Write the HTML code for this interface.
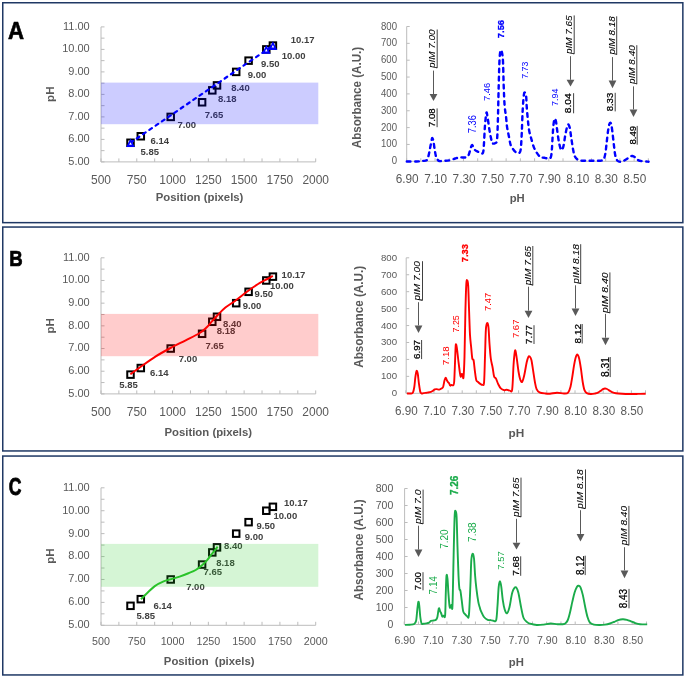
<!DOCTYPE html>
<html><head><meta charset="utf-8"><style>
html,body{margin:0;padding:0;background:#fff;}
svg{display:block;font-family:"Liberation Sans", sans-serif;will-change:transform;}
</style></head><body>
<svg width="685" height="678" viewBox="0 0 685 678">
<rect width="685" height="678" fill="#fff"/>
<rect x="2.75" y="2.75" width="680.1" height="219.90" fill="none" stroke="#1f3864" stroke-width="1.5"/>
<rect x="2.75" y="227.05" width="680.1" height="223.90" fill="none" stroke="#1f3864" stroke-width="1.5"/>
<rect x="2.75" y="456.05" width="680.1" height="218.90" fill="none" stroke="#1f3864" stroke-width="1.5"/>
<line x1="101.0" y1="26.9" x2="101.0" y2="161.9" stroke="#bcbcbc" stroke-width="1"/>
<line x1="101.0" y1="161.9" x2="315.7" y2="161.9" stroke="#bcbcbc" stroke-width="1"/>
<line x1="101.0" y1="161.90" x2="104.5" y2="161.90" stroke="#bcbcbc" stroke-width="1"/>
<line x1="101.0" y1="150.65" x2="104.5" y2="150.65" stroke="#bcbcbc" stroke-width="1"/>
<line x1="101.0" y1="139.40" x2="104.5" y2="139.40" stroke="#bcbcbc" stroke-width="1"/>
<line x1="101.0" y1="128.15" x2="104.5" y2="128.15" stroke="#bcbcbc" stroke-width="1"/>
<line x1="101.0" y1="116.90" x2="104.5" y2="116.90" stroke="#bcbcbc" stroke-width="1"/>
<line x1="101.0" y1="105.65" x2="104.5" y2="105.65" stroke="#bcbcbc" stroke-width="1"/>
<line x1="101.0" y1="94.40" x2="104.5" y2="94.40" stroke="#bcbcbc" stroke-width="1"/>
<line x1="101.0" y1="83.15" x2="104.5" y2="83.15" stroke="#bcbcbc" stroke-width="1"/>
<line x1="101.0" y1="71.90" x2="104.5" y2="71.90" stroke="#bcbcbc" stroke-width="1"/>
<line x1="101.0" y1="60.65" x2="104.5" y2="60.65" stroke="#bcbcbc" stroke-width="1"/>
<line x1="101.0" y1="49.40" x2="104.5" y2="49.40" stroke="#bcbcbc" stroke-width="1"/>
<line x1="101.0" y1="38.15" x2="104.5" y2="38.15" stroke="#bcbcbc" stroke-width="1"/>
<line x1="101.0" y1="26.90" x2="104.5" y2="26.90" stroke="#bcbcbc" stroke-width="1"/>
<line x1="101.00" y1="161.9" x2="101.00" y2="158.4" stroke="#bcbcbc" stroke-width="1"/>
<line x1="118.89" y1="161.9" x2="118.89" y2="158.4" stroke="#bcbcbc" stroke-width="1"/>
<line x1="136.78" y1="161.9" x2="136.78" y2="158.4" stroke="#bcbcbc" stroke-width="1"/>
<line x1="154.68" y1="161.9" x2="154.68" y2="158.4" stroke="#bcbcbc" stroke-width="1"/>
<line x1="172.57" y1="161.9" x2="172.57" y2="158.4" stroke="#bcbcbc" stroke-width="1"/>
<line x1="190.46" y1="161.9" x2="190.46" y2="158.4" stroke="#bcbcbc" stroke-width="1"/>
<line x1="208.35" y1="161.9" x2="208.35" y2="158.4" stroke="#bcbcbc" stroke-width="1"/>
<line x1="226.24" y1="161.9" x2="226.24" y2="158.4" stroke="#bcbcbc" stroke-width="1"/>
<line x1="244.13" y1="161.9" x2="244.13" y2="158.4" stroke="#bcbcbc" stroke-width="1"/>
<line x1="262.02" y1="161.9" x2="262.02" y2="158.4" stroke="#bcbcbc" stroke-width="1"/>
<line x1="279.92" y1="161.9" x2="279.92" y2="158.4" stroke="#bcbcbc" stroke-width="1"/>
<line x1="297.81" y1="161.9" x2="297.81" y2="158.4" stroke="#bcbcbc" stroke-width="1"/>
<line x1="315.70" y1="161.9" x2="315.70" y2="158.4" stroke="#bcbcbc" stroke-width="1"/>
<text x="89.70" y="164.80" font-size="11.00" text-anchor="end" fill="#595959" textLength="21.41" lengthAdjust="spacingAndGlyphs">5.00</text>
<text x="89.70" y="142.30" font-size="11.00" text-anchor="end" fill="#595959" textLength="21.41" lengthAdjust="spacingAndGlyphs">6.00</text>
<text x="89.70" y="119.80" font-size="11.00" text-anchor="end" fill="#595959" textLength="21.41" lengthAdjust="spacingAndGlyphs">7.00</text>
<text x="89.70" y="97.30" font-size="11.00" text-anchor="end" fill="#595959" textLength="21.41" lengthAdjust="spacingAndGlyphs">8.00</text>
<text x="89.70" y="74.80" font-size="11.00" text-anchor="end" fill="#595959" textLength="21.41" lengthAdjust="spacingAndGlyphs">9.00</text>
<text x="89.70" y="52.30" font-size="11.00" text-anchor="end" fill="#595959" textLength="27.53" lengthAdjust="spacingAndGlyphs">10.00</text>
<text x="89.70" y="29.80" font-size="11.00" text-anchor="end" fill="#595959" textLength="26.71" lengthAdjust="spacingAndGlyphs">11.00</text>
<text x="101.00" y="183.80" font-size="12.70" text-anchor="middle" fill="#595959" textLength="19.98" lengthAdjust="spacingAndGlyphs">500</text>
<text x="136.78" y="183.80" font-size="12.70" text-anchor="middle" fill="#595959" textLength="19.98" lengthAdjust="spacingAndGlyphs">750</text>
<text x="172.57" y="183.80" font-size="12.70" text-anchor="middle" fill="#595959" textLength="26.64" lengthAdjust="spacingAndGlyphs">1000</text>
<text x="208.35" y="183.80" font-size="12.70" text-anchor="middle" fill="#595959" textLength="26.64" lengthAdjust="spacingAndGlyphs">1250</text>
<text x="244.13" y="183.80" font-size="12.70" text-anchor="middle" fill="#595959" textLength="26.64" lengthAdjust="spacingAndGlyphs">1500</text>
<text x="279.92" y="183.80" font-size="12.70" text-anchor="middle" fill="#595959" textLength="26.64" lengthAdjust="spacingAndGlyphs">1750</text>
<text x="315.70" y="183.80" font-size="12.70" text-anchor="middle" fill="#595959" textLength="26.64" lengthAdjust="spacingAndGlyphs">2000</text>
<text x="199.6" y="200.9" font-size="11.35" font-weight="bold" text-anchor="middle" fill="#595959">Position (pixels)</text>
<text transform="translate(54.3,94.2) rotate(-90)" font-size="11.6" font-weight="bold" text-anchor="middle" fill="#595959">pH</text>
<rect x="127.25" y="139.53" width="6.5" height="6.5" fill="none" stroke="#000" stroke-width="2"/>
<rect x="137.55" y="133.00" width="6.5" height="6.5" fill="none" stroke="#000" stroke-width="2"/>
<rect x="167.45" y="113.65" width="6.5" height="6.5" fill="none" stroke="#000" stroke-width="2"/>
<rect x="198.85" y="99.03" width="6.5" height="6.5" fill="none" stroke="#000" stroke-width="2"/>
<rect x="209.05" y="87.10" width="6.5" height="6.5" fill="none" stroke="#000" stroke-width="2"/>
<rect x="213.75" y="82.15" width="6.5" height="6.5" fill="none" stroke="#000" stroke-width="2"/>
<rect x="232.95" y="68.65" width="6.5" height="6.5" fill="none" stroke="#000" stroke-width="2"/>
<rect x="245.35" y="57.40" width="6.5" height="6.5" fill="none" stroke="#000" stroke-width="2"/>
<rect x="263.05" y="46.15" width="6.5" height="6.5" fill="none" stroke="#000" stroke-width="2"/>
<rect x="269.65" y="42.33" width="6.5" height="6.5" fill="none" stroke="#000" stroke-width="2"/>
<line x1="130.5" y1="142.78" x2="272.9" y2="45.58" stroke="#0000ff" stroke-width="2.2" stroke-dasharray="3.1 4.5" stroke-linecap="round"/>
<path d="M130.50,138.47 L134.80,147.08 L126.20,147.08 Z" fill="#0000ff"/>
<path d="M130.50,142.18 L131.80,144.78 L129.20,144.78 Z" fill="#fff"/>
<path d="M266.30,45.10 L270.60,53.70 L262.00,53.70 Z" fill="#0000ff"/>
<path d="M266.30,48.80 L267.60,51.40 L265.00,51.40 Z" fill="#fff"/>
<path d="M272.90,41.28 L277.20,49.88 L268.60,49.88 Z" fill="#0000ff"/>
<path d="M272.90,44.98 L274.20,47.58 L271.60,47.58 Z" fill="#fff"/>
<text x="140.5" y="155.0" font-size="9.5" font-weight="bold" fill="#404040">5.85</text>
<text x="150.5" y="144.2" font-size="9.5" font-weight="bold" fill="#404040">6.14</text>
<text x="177.5" y="127.9" font-size="9.5" font-weight="bold" fill="#404040">7.00</text>
<text x="204.8" y="117.7" font-size="9.5" font-weight="bold" fill="#404040">7.65</text>
<text x="218.0" y="101.8" font-size="9.5" font-weight="bold" fill="#404040">8.18</text>
<text x="231.2" y="90.8" font-size="9.5" font-weight="bold" fill="#404040">8.40</text>
<text x="247.8" y="77.7" font-size="9.5" font-weight="bold" fill="#404040">9.00</text>
<text x="261.0" y="66.8" font-size="9.5" font-weight="bold" fill="#404040">9.50</text>
<text x="281.8" y="58.9" font-size="9.5" font-weight="bold" fill="#404040">10.00</text>
<text x="290.7" y="43.1" font-size="9.5" font-weight="bold" fill="#404040">10.17</text>
<rect x="101.0" y="82.60" width="217.30" height="41.60" fill="rgba(0,0,255,0.2)"/>
<line x1="101.0" y1="257.8" x2="101.0" y2="393.9" stroke="#bcbcbc" stroke-width="1"/>
<line x1="101.0" y1="393.9" x2="315.7" y2="393.9" stroke="#bcbcbc" stroke-width="1"/>
<line x1="101.0" y1="393.90" x2="104.5" y2="393.90" stroke="#bcbcbc" stroke-width="1"/>
<line x1="101.0" y1="382.56" x2="104.5" y2="382.56" stroke="#bcbcbc" stroke-width="1"/>
<line x1="101.0" y1="371.22" x2="104.5" y2="371.22" stroke="#bcbcbc" stroke-width="1"/>
<line x1="101.0" y1="359.88" x2="104.5" y2="359.88" stroke="#bcbcbc" stroke-width="1"/>
<line x1="101.0" y1="348.53" x2="104.5" y2="348.53" stroke="#bcbcbc" stroke-width="1"/>
<line x1="101.0" y1="337.19" x2="104.5" y2="337.19" stroke="#bcbcbc" stroke-width="1"/>
<line x1="101.0" y1="325.85" x2="104.5" y2="325.85" stroke="#bcbcbc" stroke-width="1"/>
<line x1="101.0" y1="314.51" x2="104.5" y2="314.51" stroke="#bcbcbc" stroke-width="1"/>
<line x1="101.0" y1="303.17" x2="104.5" y2="303.17" stroke="#bcbcbc" stroke-width="1"/>
<line x1="101.0" y1="291.82" x2="104.5" y2="291.82" stroke="#bcbcbc" stroke-width="1"/>
<line x1="101.0" y1="280.48" x2="104.5" y2="280.48" stroke="#bcbcbc" stroke-width="1"/>
<line x1="101.0" y1="269.14" x2="104.5" y2="269.14" stroke="#bcbcbc" stroke-width="1"/>
<line x1="101.0" y1="257.80" x2="104.5" y2="257.80" stroke="#bcbcbc" stroke-width="1"/>
<line x1="101.00" y1="393.9" x2="101.00" y2="390.4" stroke="#bcbcbc" stroke-width="1"/>
<line x1="118.89" y1="393.9" x2="118.89" y2="390.4" stroke="#bcbcbc" stroke-width="1"/>
<line x1="136.78" y1="393.9" x2="136.78" y2="390.4" stroke="#bcbcbc" stroke-width="1"/>
<line x1="154.68" y1="393.9" x2="154.68" y2="390.4" stroke="#bcbcbc" stroke-width="1"/>
<line x1="172.57" y1="393.9" x2="172.57" y2="390.4" stroke="#bcbcbc" stroke-width="1"/>
<line x1="190.46" y1="393.9" x2="190.46" y2="390.4" stroke="#bcbcbc" stroke-width="1"/>
<line x1="208.35" y1="393.9" x2="208.35" y2="390.4" stroke="#bcbcbc" stroke-width="1"/>
<line x1="226.24" y1="393.9" x2="226.24" y2="390.4" stroke="#bcbcbc" stroke-width="1"/>
<line x1="244.13" y1="393.9" x2="244.13" y2="390.4" stroke="#bcbcbc" stroke-width="1"/>
<line x1="262.02" y1="393.9" x2="262.02" y2="390.4" stroke="#bcbcbc" stroke-width="1"/>
<line x1="279.92" y1="393.9" x2="279.92" y2="390.4" stroke="#bcbcbc" stroke-width="1"/>
<line x1="297.81" y1="393.9" x2="297.81" y2="390.4" stroke="#bcbcbc" stroke-width="1"/>
<line x1="315.70" y1="393.9" x2="315.70" y2="390.4" stroke="#bcbcbc" stroke-width="1"/>
<text x="89.70" y="396.80" font-size="11.00" text-anchor="end" fill="#595959" textLength="21.41" lengthAdjust="spacingAndGlyphs">5.00</text>
<text x="89.70" y="374.12" font-size="11.00" text-anchor="end" fill="#595959" textLength="21.41" lengthAdjust="spacingAndGlyphs">6.00</text>
<text x="89.70" y="351.43" font-size="11.00" text-anchor="end" fill="#595959" textLength="21.41" lengthAdjust="spacingAndGlyphs">7.00</text>
<text x="89.70" y="328.75" font-size="11.00" text-anchor="end" fill="#595959" textLength="21.41" lengthAdjust="spacingAndGlyphs">8.00</text>
<text x="89.70" y="306.07" font-size="11.00" text-anchor="end" fill="#595959" textLength="21.41" lengthAdjust="spacingAndGlyphs">9.00</text>
<text x="89.70" y="283.38" font-size="11.00" text-anchor="end" fill="#595959" textLength="27.53" lengthAdjust="spacingAndGlyphs">10.00</text>
<text x="89.70" y="260.70" font-size="11.00" text-anchor="end" fill="#595959" textLength="26.71" lengthAdjust="spacingAndGlyphs">11.00</text>
<text x="101.00" y="415.90" font-size="13.10" text-anchor="middle" fill="#595959" textLength="20.00" lengthAdjust="spacingAndGlyphs">500</text>
<text x="136.78" y="415.90" font-size="13.10" text-anchor="middle" fill="#595959" textLength="20.00" lengthAdjust="spacingAndGlyphs">750</text>
<text x="172.57" y="415.90" font-size="13.10" text-anchor="middle" fill="#595959" textLength="26.67" lengthAdjust="spacingAndGlyphs">1000</text>
<text x="208.35" y="415.90" font-size="13.10" text-anchor="middle" fill="#595959" textLength="26.67" lengthAdjust="spacingAndGlyphs">1250</text>
<text x="244.13" y="415.90" font-size="13.10" text-anchor="middle" fill="#595959" textLength="26.67" lengthAdjust="spacingAndGlyphs">1500</text>
<text x="279.92" y="415.90" font-size="13.10" text-anchor="middle" fill="#595959" textLength="26.67" lengthAdjust="spacingAndGlyphs">1750</text>
<text x="315.70" y="415.90" font-size="13.10" text-anchor="middle" fill="#595959" textLength="26.67" lengthAdjust="spacingAndGlyphs">2000</text>
<text x="208.3" y="435.7" font-size="11.35" font-weight="bold" text-anchor="middle" fill="#595959">Position (pixels)</text>
<text transform="translate(54.3,325.8) rotate(-90)" font-size="11.6" font-weight="bold" text-anchor="middle" fill="#595959">pH</text>
<rect x="127.25" y="371.37" width="6.5" height="6.5" fill="none" stroke="#000" stroke-width="2"/>
<rect x="137.55" y="364.79" width="6.5" height="6.5" fill="none" stroke="#000" stroke-width="2"/>
<rect x="167.45" y="345.28" width="6.5" height="6.5" fill="none" stroke="#000" stroke-width="2"/>
<rect x="198.85" y="330.54" width="6.5" height="6.5" fill="none" stroke="#000" stroke-width="2"/>
<rect x="209.05" y="318.52" width="6.5" height="6.5" fill="none" stroke="#000" stroke-width="2"/>
<rect x="213.75" y="313.53" width="6.5" height="6.5" fill="none" stroke="#000" stroke-width="2"/>
<rect x="232.95" y="299.92" width="6.5" height="6.5" fill="none" stroke="#000" stroke-width="2"/>
<rect x="245.35" y="288.57" width="6.5" height="6.5" fill="none" stroke="#000" stroke-width="2"/>
<rect x="263.05" y="277.23" width="6.5" height="6.5" fill="none" stroke="#000" stroke-width="2"/>
<rect x="269.65" y="273.38" width="6.5" height="6.5" fill="none" stroke="#000" stroke-width="2"/>
<path d="M130.30,374.30 C131.98,373.08 136.22,369.95 140.40,367.00 C144.58,364.05 150.38,359.77 155.40,356.60 C160.42,353.43 165.45,350.72 170.50,348.00 C175.55,345.28 180.83,342.80 185.70,340.30 C190.57,337.80 196.18,335.18 199.70,333.00 C203.22,330.82 204.77,329.13 206.80,327.20 C208.83,325.27 210.15,323.35 211.90,321.40 C213.65,319.45 215.05,317.80 217.30,315.50 C219.55,313.20 222.28,310.15 225.40,307.60 C228.52,305.05 232.30,302.93 236.00,300.20 C239.70,297.47 243.92,293.90 247.60,291.20 C251.28,288.50 254.82,286.03 258.10,284.00 C261.38,281.97 264.85,280.35 267.30,279.00 C269.75,277.65 271.88,276.42 272.80,275.90" fill="none" stroke="#ff0000" stroke-width="2"/>
<text x="119.3" y="388.2" font-size="9.5" font-weight="bold" fill="#404040">5.85</text>
<text x="150.0" y="376.0" font-size="9.5" font-weight="bold" fill="#404040">6.14</text>
<text x="178.7" y="362.0" font-size="9.5" font-weight="bold" fill="#404040">7.00</text>
<text x="205.4" y="349.1" font-size="9.5" font-weight="bold" fill="#404040">7.65</text>
<text x="216.8" y="334.2" font-size="9.5" font-weight="bold" fill="#404040">8.18</text>
<text x="223.0" y="327.3" font-size="9.5" font-weight="bold" fill="#404040">8.40</text>
<text x="242.8" y="309.3" font-size="9.5" font-weight="bold" fill="#404040">9.00</text>
<text x="254.6" y="297.0" font-size="9.5" font-weight="bold" fill="#404040">9.50</text>
<text x="270.0" y="289.4" font-size="9.5" font-weight="bold" fill="#404040">10.00</text>
<text x="281.6" y="277.6" font-size="9.5" font-weight="bold" fill="#404040">10.17</text>
<rect x="101.0" y="313.90" width="217.30" height="42.30" fill="rgba(255,0,0,0.2)"/>
<line x1="101.0" y1="487.8" x2="101.0" y2="625.3" stroke="#bcbcbc" stroke-width="1"/>
<line x1="101.0" y1="625.3" x2="315.7" y2="625.3" stroke="#bcbcbc" stroke-width="1"/>
<line x1="101.0" y1="625.30" x2="104.5" y2="625.30" stroke="#bcbcbc" stroke-width="1"/>
<line x1="101.0" y1="613.84" x2="104.5" y2="613.84" stroke="#bcbcbc" stroke-width="1"/>
<line x1="101.0" y1="602.38" x2="104.5" y2="602.38" stroke="#bcbcbc" stroke-width="1"/>
<line x1="101.0" y1="590.92" x2="104.5" y2="590.92" stroke="#bcbcbc" stroke-width="1"/>
<line x1="101.0" y1="579.47" x2="104.5" y2="579.47" stroke="#bcbcbc" stroke-width="1"/>
<line x1="101.0" y1="568.01" x2="104.5" y2="568.01" stroke="#bcbcbc" stroke-width="1"/>
<line x1="101.0" y1="556.55" x2="104.5" y2="556.55" stroke="#bcbcbc" stroke-width="1"/>
<line x1="101.0" y1="545.09" x2="104.5" y2="545.09" stroke="#bcbcbc" stroke-width="1"/>
<line x1="101.0" y1="533.63" x2="104.5" y2="533.63" stroke="#bcbcbc" stroke-width="1"/>
<line x1="101.0" y1="522.17" x2="104.5" y2="522.17" stroke="#bcbcbc" stroke-width="1"/>
<line x1="101.0" y1="510.72" x2="104.5" y2="510.72" stroke="#bcbcbc" stroke-width="1"/>
<line x1="101.0" y1="499.26" x2="104.5" y2="499.26" stroke="#bcbcbc" stroke-width="1"/>
<line x1="101.0" y1="487.80" x2="104.5" y2="487.80" stroke="#bcbcbc" stroke-width="1"/>
<line x1="101.00" y1="625.3" x2="101.00" y2="621.8" stroke="#bcbcbc" stroke-width="1"/>
<line x1="118.89" y1="625.3" x2="118.89" y2="621.8" stroke="#bcbcbc" stroke-width="1"/>
<line x1="136.78" y1="625.3" x2="136.78" y2="621.8" stroke="#bcbcbc" stroke-width="1"/>
<line x1="154.68" y1="625.3" x2="154.68" y2="621.8" stroke="#bcbcbc" stroke-width="1"/>
<line x1="172.57" y1="625.3" x2="172.57" y2="621.8" stroke="#bcbcbc" stroke-width="1"/>
<line x1="190.46" y1="625.3" x2="190.46" y2="621.8" stroke="#bcbcbc" stroke-width="1"/>
<line x1="208.35" y1="625.3" x2="208.35" y2="621.8" stroke="#bcbcbc" stroke-width="1"/>
<line x1="226.24" y1="625.3" x2="226.24" y2="621.8" stroke="#bcbcbc" stroke-width="1"/>
<line x1="244.13" y1="625.3" x2="244.13" y2="621.8" stroke="#bcbcbc" stroke-width="1"/>
<line x1="262.02" y1="625.3" x2="262.02" y2="621.8" stroke="#bcbcbc" stroke-width="1"/>
<line x1="279.92" y1="625.3" x2="279.92" y2="621.8" stroke="#bcbcbc" stroke-width="1"/>
<line x1="297.81" y1="625.3" x2="297.81" y2="621.8" stroke="#bcbcbc" stroke-width="1"/>
<line x1="315.70" y1="625.3" x2="315.70" y2="621.8" stroke="#bcbcbc" stroke-width="1"/>
<text x="89.70" y="628.20" font-size="11.00" text-anchor="end" fill="#595959" textLength="21.41" lengthAdjust="spacingAndGlyphs">5.00</text>
<text x="89.70" y="605.28" font-size="11.00" text-anchor="end" fill="#595959" textLength="21.41" lengthAdjust="spacingAndGlyphs">6.00</text>
<text x="89.70" y="582.37" font-size="11.00" text-anchor="end" fill="#595959" textLength="21.41" lengthAdjust="spacingAndGlyphs">7.00</text>
<text x="89.70" y="559.45" font-size="11.00" text-anchor="end" fill="#595959" textLength="21.41" lengthAdjust="spacingAndGlyphs">8.00</text>
<text x="89.70" y="536.53" font-size="11.00" text-anchor="end" fill="#595959" textLength="21.41" lengthAdjust="spacingAndGlyphs">9.00</text>
<text x="89.70" y="513.62" font-size="11.00" text-anchor="end" fill="#595959" textLength="27.53" lengthAdjust="spacingAndGlyphs">10.00</text>
<text x="89.70" y="490.70" font-size="11.00" text-anchor="end" fill="#595959" textLength="26.71" lengthAdjust="spacingAndGlyphs">11.00</text>
<text x="101.00" y="645.10" font-size="11.80" text-anchor="middle" fill="#595959" textLength="17.88" lengthAdjust="spacingAndGlyphs">500</text>
<text x="136.78" y="645.10" font-size="11.80" text-anchor="middle" fill="#595959" textLength="17.88" lengthAdjust="spacingAndGlyphs">750</text>
<text x="172.57" y="645.10" font-size="11.80" text-anchor="middle" fill="#595959" textLength="23.84" lengthAdjust="spacingAndGlyphs">1000</text>
<text x="208.35" y="645.10" font-size="11.80" text-anchor="middle" fill="#595959" textLength="23.84" lengthAdjust="spacingAndGlyphs">1250</text>
<text x="244.13" y="645.10" font-size="11.80" text-anchor="middle" fill="#595959" textLength="23.84" lengthAdjust="spacingAndGlyphs">1500</text>
<text x="279.92" y="645.10" font-size="11.80" text-anchor="middle" fill="#595959" textLength="23.84" lengthAdjust="spacingAndGlyphs">1750</text>
<text x="315.70" y="645.10" font-size="11.80" text-anchor="middle" fill="#595959" textLength="23.84" lengthAdjust="spacingAndGlyphs">2000</text>
<text x="209.2" y="664.6" font-size="11.35" font-weight="bold" text-anchor="middle" fill="#595959">Position&#160; (pixels)</text>
<text transform="translate(54.3,556.0) rotate(-90)" font-size="11.6" font-weight="bold" text-anchor="middle" fill="#595959">pH</text>
<rect x="127.25" y="602.57" width="6.5" height="6.5" fill="none" stroke="#000" stroke-width="2"/>
<rect x="137.55" y="595.92" width="6.5" height="6.5" fill="none" stroke="#000" stroke-width="2"/>
<rect x="167.45" y="576.22" width="6.5" height="6.5" fill="none" stroke="#000" stroke-width="2"/>
<rect x="198.85" y="561.32" width="6.5" height="6.5" fill="none" stroke="#000" stroke-width="2"/>
<rect x="209.05" y="549.17" width="6.5" height="6.5" fill="none" stroke="#000" stroke-width="2"/>
<rect x="213.75" y="544.13" width="6.5" height="6.5" fill="none" stroke="#000" stroke-width="2"/>
<rect x="232.95" y="530.38" width="6.5" height="6.5" fill="none" stroke="#000" stroke-width="2"/>
<rect x="245.35" y="518.92" width="6.5" height="6.5" fill="none" stroke="#000" stroke-width="2"/>
<rect x="263.05" y="507.47" width="6.5" height="6.5" fill="none" stroke="#000" stroke-width="2"/>
<rect x="269.65" y="503.57" width="6.5" height="6.5" fill="none" stroke="#000" stroke-width="2"/>
<path d="M141.00,599.20 C142.08,598.12 145.20,594.88 147.50,592.70 C149.80,590.52 152.12,587.98 154.80,586.10 C157.48,584.22 160.92,582.55 163.60,581.40 C166.28,580.25 168.23,580.00 170.90,579.20 C173.57,578.40 176.68,577.60 179.60,576.60 C182.52,575.60 185.72,574.30 188.40,573.20 C191.08,572.10 193.38,571.38 195.70,570.00 C198.02,568.62 200.35,566.60 202.30,564.90 C204.25,563.20 205.82,561.62 207.40,559.80 C208.98,557.98 210.47,555.70 211.80,554.00 C213.13,552.30 214.43,550.82 215.40,549.60 C216.37,548.38 217.23,547.18 217.60,546.70" fill="none" stroke="#2cc22c" stroke-width="2"/>
<text x="136.5" y="618.7" font-size="9.5" font-weight="bold" fill="#404040">5.85</text>
<text x="153.4" y="608.6" font-size="9.5" font-weight="bold" fill="#404040">6.14</text>
<text x="186.2" y="589.7" font-size="9.5" font-weight="bold" fill="#404040">7.00</text>
<text x="203.5" y="574.8" font-size="9.5" font-weight="bold" fill="#404040">7.65</text>
<text x="216.2" y="566.0" font-size="9.5" font-weight="bold" fill="#404040">8.18</text>
<text x="224.0" y="549.3" font-size="9.5" font-weight="bold" fill="#404040">8.40</text>
<text x="244.8" y="540.1" font-size="9.5" font-weight="bold" fill="#404040">9.00</text>
<text x="256.5" y="528.8" font-size="9.5" font-weight="bold" fill="#404040">9.50</text>
<text x="273.4" y="518.6" font-size="9.5" font-weight="bold" fill="#404040">10.00</text>
<text x="284.0" y="506.0" font-size="9.5" font-weight="bold" fill="#404040">10.17</text>
<rect x="101.0" y="543.90" width="217.30" height="42.90" fill="rgba(30,200,30,0.19)"/>
<line x1="406.7" y1="26.5" x2="406.7" y2="161.3" stroke="#bcbcbc" stroke-width="1"/>
<line x1="406.7" y1="161.3" x2="648.3" y2="161.3" stroke="#bcbcbc" stroke-width="1"/>
<line x1="406.7" y1="161.30" x2="409.7" y2="161.30" stroke="#bcbcbc" stroke-width="1"/>
<text x="397.00" y="164.30" font-size="10.30" text-anchor="end" fill="#595959" textLength="5.33" lengthAdjust="spacingAndGlyphs">0</text>
<line x1="406.7" y1="144.45" x2="409.7" y2="144.45" stroke="#bcbcbc" stroke-width="1"/>
<text x="397.00" y="147.45" font-size="10.30" text-anchor="end" fill="#595959" textLength="15.98" lengthAdjust="spacingAndGlyphs">100</text>
<line x1="406.7" y1="127.60" x2="409.7" y2="127.60" stroke="#bcbcbc" stroke-width="1"/>
<text x="397.00" y="130.60" font-size="10.30" text-anchor="end" fill="#595959" textLength="15.98" lengthAdjust="spacingAndGlyphs">200</text>
<line x1="406.7" y1="110.75" x2="409.7" y2="110.75" stroke="#bcbcbc" stroke-width="1"/>
<text x="397.00" y="113.75" font-size="10.30" text-anchor="end" fill="#595959" textLength="15.98" lengthAdjust="spacingAndGlyphs">300</text>
<line x1="406.7" y1="93.90" x2="409.7" y2="93.90" stroke="#bcbcbc" stroke-width="1"/>
<text x="397.00" y="96.90" font-size="10.30" text-anchor="end" fill="#595959" textLength="15.98" lengthAdjust="spacingAndGlyphs">400</text>
<line x1="406.7" y1="77.05" x2="409.7" y2="77.05" stroke="#bcbcbc" stroke-width="1"/>
<text x="397.00" y="80.05" font-size="10.30" text-anchor="end" fill="#595959" textLength="15.98" lengthAdjust="spacingAndGlyphs">500</text>
<line x1="406.7" y1="60.20" x2="409.7" y2="60.20" stroke="#bcbcbc" stroke-width="1"/>
<text x="397.00" y="63.20" font-size="10.30" text-anchor="end" fill="#595959" textLength="15.98" lengthAdjust="spacingAndGlyphs">600</text>
<line x1="406.7" y1="43.35" x2="409.7" y2="43.35" stroke="#bcbcbc" stroke-width="1"/>
<text x="397.00" y="46.35" font-size="10.30" text-anchor="end" fill="#595959" textLength="15.98" lengthAdjust="spacingAndGlyphs">700</text>
<line x1="406.7" y1="26.50" x2="409.7" y2="26.50" stroke="#bcbcbc" stroke-width="1"/>
<text x="397.00" y="29.50" font-size="10.30" text-anchor="end" fill="#595959" textLength="15.98" lengthAdjust="spacingAndGlyphs">800</text>
<line x1="406.60" y1="161.3" x2="406.60" y2="158.3" stroke="#bcbcbc" stroke-width="1"/>
<text x="407.20" y="183.10" font-size="13.10" text-anchor="middle" fill="#595959" textLength="22.97" lengthAdjust="spacingAndGlyphs">6.90</text>
<line x1="420.82" y1="161.3" x2="420.82" y2="158.3" stroke="#bcbcbc" stroke-width="1"/>
<line x1="435.04" y1="161.3" x2="435.04" y2="158.3" stroke="#bcbcbc" stroke-width="1"/>
<text x="435.64" y="183.10" font-size="13.10" text-anchor="middle" fill="#595959" textLength="22.97" lengthAdjust="spacingAndGlyphs">7.10</text>
<line x1="449.26" y1="161.3" x2="449.26" y2="158.3" stroke="#bcbcbc" stroke-width="1"/>
<line x1="463.48" y1="161.3" x2="463.48" y2="158.3" stroke="#bcbcbc" stroke-width="1"/>
<text x="464.08" y="183.10" font-size="13.10" text-anchor="middle" fill="#595959" textLength="22.97" lengthAdjust="spacingAndGlyphs">7.30</text>
<line x1="477.70" y1="161.3" x2="477.70" y2="158.3" stroke="#bcbcbc" stroke-width="1"/>
<line x1="491.92" y1="161.3" x2="491.92" y2="158.3" stroke="#bcbcbc" stroke-width="1"/>
<text x="492.52" y="183.10" font-size="13.10" text-anchor="middle" fill="#595959" textLength="22.97" lengthAdjust="spacingAndGlyphs">7.50</text>
<line x1="506.14" y1="161.3" x2="506.14" y2="158.3" stroke="#bcbcbc" stroke-width="1"/>
<line x1="520.36" y1="161.3" x2="520.36" y2="158.3" stroke="#bcbcbc" stroke-width="1"/>
<text x="520.96" y="183.10" font-size="13.10" text-anchor="middle" fill="#595959" textLength="22.97" lengthAdjust="spacingAndGlyphs">7.70</text>
<line x1="534.58" y1="161.3" x2="534.58" y2="158.3" stroke="#bcbcbc" stroke-width="1"/>
<line x1="548.80" y1="161.3" x2="548.80" y2="158.3" stroke="#bcbcbc" stroke-width="1"/>
<text x="549.40" y="183.10" font-size="13.10" text-anchor="middle" fill="#595959" textLength="22.97" lengthAdjust="spacingAndGlyphs">7.90</text>
<line x1="563.02" y1="161.3" x2="563.02" y2="158.3" stroke="#bcbcbc" stroke-width="1"/>
<line x1="577.24" y1="161.3" x2="577.24" y2="158.3" stroke="#bcbcbc" stroke-width="1"/>
<text x="577.84" y="183.10" font-size="13.10" text-anchor="middle" fill="#595959" textLength="22.97" lengthAdjust="spacingAndGlyphs">8.10</text>
<line x1="591.46" y1="161.3" x2="591.46" y2="158.3" stroke="#bcbcbc" stroke-width="1"/>
<line x1="605.68" y1="161.3" x2="605.68" y2="158.3" stroke="#bcbcbc" stroke-width="1"/>
<text x="606.28" y="183.10" font-size="13.10" text-anchor="middle" fill="#595959" textLength="22.97" lengthAdjust="spacingAndGlyphs">8.30</text>
<line x1="619.90" y1="161.3" x2="619.90" y2="158.3" stroke="#bcbcbc" stroke-width="1"/>
<line x1="634.12" y1="161.3" x2="634.12" y2="158.3" stroke="#bcbcbc" stroke-width="1"/>
<text x="634.72" y="183.10" font-size="13.10" text-anchor="middle" fill="#595959" textLength="22.97" lengthAdjust="spacingAndGlyphs">8.50</text>
<line x1="648.34" y1="161.3" x2="648.34" y2="158.3" stroke="#bcbcbc" stroke-width="1"/>
<text x="517.2" y="201.9" font-size="11.3" font-weight="bold" text-anchor="middle" fill="#595959">pH</text>
<text transform="translate(360.6,148.20) rotate(-90)" font-size="12.2" font-weight="bold" fill="#595959" textLength="101.40" lengthAdjust="spacingAndGlyphs">Absorbance (A.U.)</text>
<path d="M406.80,161.50 C408.45,161.50 414.08,161.60 416.70,161.50 C419.32,161.40 420.85,161.10 422.50,160.90 C424.15,160.70 425.62,161.08 426.60,160.30 C427.58,159.52 427.82,158.25 428.40,156.20 C428.98,154.15 429.57,150.63 430.10,148.00 C430.63,145.37 431.22,142.05 431.60,140.40 C431.98,138.75 432.07,137.80 432.40,138.10 C432.73,138.40 433.20,140.15 433.60,142.20 C434.00,144.25 434.35,147.87 434.80,150.40 C435.25,152.93 435.62,155.65 436.30,157.40 C436.98,159.15 437.88,160.32 438.90,160.90 C439.92,161.48 440.65,161.00 442.40,160.90 C444.15,160.80 447.27,160.70 449.40,160.30 C451.53,159.90 453.45,158.98 455.20,158.50 C456.95,158.02 458.15,157.58 459.90,157.40 C461.65,157.22 464.25,157.80 465.70,157.40 C467.15,157.00 467.82,156.37 468.60,155.00 C469.38,153.63 469.82,150.87 470.40,149.20 C470.98,147.53 471.38,144.92 472.10,145.00 C472.82,145.08 473.80,148.62 474.70,149.70 C475.60,150.78 476.57,150.98 477.50,151.50 C478.43,152.02 479.38,152.58 480.30,152.80 C481.22,153.02 482.38,154.40 483.00,152.80 C483.62,151.20 483.68,147.57 484.00,143.20 C484.32,138.83 484.50,131.67 484.90,126.60 C485.30,121.53 485.95,114.33 486.40,112.80 C486.85,111.27 487.08,114.48 487.60,117.40 C488.12,120.32 488.88,126.62 489.50,130.30 C490.12,133.98 490.83,137.35 491.30,139.50 C491.77,141.65 491.68,142.58 492.30,143.20 C492.92,143.82 494.23,143.65 495.00,143.20 C495.77,142.75 496.43,143.87 496.90,140.50 C497.37,137.13 497.50,132.08 497.80,123.00 C498.10,113.92 498.40,96.77 498.70,86.00 C499.00,75.23 499.23,64.38 499.60,58.40 C499.97,52.42 500.37,50.10 500.90,50.10 C501.43,50.10 502.33,52.42 502.80,58.40 C503.27,64.38 503.40,78.17 503.70,86.00 C504.00,93.83 504.20,100.17 504.60,105.40 C505.00,110.63 505.70,113.87 506.10,117.40 C506.50,120.93 506.55,123.52 507.00,126.60 C507.45,129.68 508.18,132.82 508.80,135.90 C509.42,138.98 509.92,142.80 510.70,145.10 C511.48,147.40 512.58,148.48 513.50,149.70 C514.42,150.92 515.22,151.88 516.20,152.40 C517.18,152.92 518.63,153.40 519.40,152.80 C520.17,152.20 520.40,152.23 520.80,148.80 C521.20,145.37 521.48,138.67 521.80,132.20 C522.12,125.73 522.32,116.45 522.70,110.00 C523.08,103.55 523.55,95.95 524.10,93.50 C524.65,91.05 525.57,93.15 526.00,95.30 C526.43,97.45 526.40,102.40 526.70,106.40 C527.00,110.40 527.40,115.32 527.80,119.30 C528.20,123.28 528.57,127.23 529.10,130.30 C529.63,133.37 530.23,134.93 531.00,137.70 C531.77,140.47 532.78,144.45 533.70,146.90 C534.62,149.35 535.57,150.87 536.50,152.40 C537.43,153.93 538.67,155.30 539.30,156.10 C539.93,156.90 539.47,156.92 540.30,157.20 C541.13,157.48 543.05,157.60 544.30,157.80 C545.55,158.00 546.72,158.50 547.80,158.40 C548.88,158.30 550.12,158.77 550.80,157.20 C551.48,155.63 551.62,152.12 551.90,149.00 C552.18,145.88 552.30,141.80 552.50,138.50 C552.70,135.20 552.87,132.02 553.10,129.20 C553.33,126.38 553.60,123.35 553.90,121.60 C554.20,119.85 554.55,118.70 554.90,118.70 C555.25,118.70 555.62,119.65 556.00,121.60 C556.38,123.55 556.72,127.00 557.20,130.40 C557.68,133.80 558.32,138.90 558.90,142.00 C559.48,145.10 560.17,147.73 560.70,149.00 C561.23,150.27 561.62,150.18 562.10,149.60 C562.58,149.02 563.10,147.73 563.60,145.50 C564.10,143.27 564.57,139.12 565.10,136.20 C565.63,133.28 566.27,129.95 566.80,128.00 C567.33,126.05 567.80,124.50 568.30,124.50 C568.80,124.50 569.32,125.85 569.80,128.00 C570.28,130.15 570.67,133.90 571.20,137.40 C571.73,140.90 572.42,145.88 573.00,149.00 C573.58,152.12 573.93,154.33 574.70,156.10 C575.47,157.87 576.43,158.83 577.60,159.60 C578.77,160.37 580.03,160.52 581.70,160.70 C583.37,160.88 585.65,160.70 587.60,160.70 C589.55,160.70 591.27,160.70 593.40,160.70 C595.53,160.70 598.72,160.90 600.40,160.70 C602.08,160.50 602.68,160.65 603.50,159.50 C604.32,158.35 604.78,156.50 605.30,153.80 C605.82,151.10 606.17,146.95 606.60,143.30 C607.03,139.65 607.47,135.03 607.90,131.90 C608.33,128.77 608.80,126.03 609.20,124.50 C609.60,122.97 609.93,122.63 610.30,122.70 C610.67,122.77 611.00,122.93 611.40,124.90 C611.80,126.87 612.27,131.00 612.70,134.50 C613.13,138.00 613.57,142.40 614.00,145.90 C614.43,149.40 614.72,153.02 615.30,155.50 C615.88,157.98 616.55,159.77 617.50,160.80 C618.45,161.83 619.83,161.77 621.00,161.70 C622.17,161.63 623.33,160.98 624.50,160.40 C625.67,159.82 626.97,158.87 628.00,158.20 C629.03,157.53 629.97,156.77 630.70,156.40 C631.43,156.03 631.68,155.85 632.40,156.00 C633.12,156.15 634.12,156.65 635.00,157.30 C635.88,157.95 636.53,159.25 637.70,159.90 C638.87,160.55 640.18,160.90 642.00,161.20 C643.82,161.50 647.50,161.62 648.60,161.70" fill="none" stroke="#0000ff" stroke-width="2.4" stroke-dasharray="3.7 4.5" stroke-linecap="round" stroke-linejoin="round"/>
<text transform="translate(435.10,68.00) rotate(-90)" font-size="9.90" font-weight="normal" font-style="italic" fill="#000" stroke="#000" stroke-width="0.08" textLength="38.49" lengthAdjust="spacingAndGlyphs">pIM 7.00</text>
<line x1="437.20" y1="29.50" x2="437.20" y2="68.10" stroke="#404040" stroke-width="1"/>
<text transform="translate(435.10,127.09) rotate(-90)" font-size="9.73" font-weight="normal" font-style="normal" fill="#000" stroke="#000" stroke-width="0.25" textLength="18.69" lengthAdjust="spacingAndGlyphs">7.08</text>
<line x1="437.10" y1="108.40" x2="437.10" y2="127.20" stroke="#404040" stroke-width="1"/>
<text transform="translate(475.70,133.20) rotate(-90)" font-size="10.01" font-weight="normal" font-style="normal" fill="#0000ff" textLength="18.00" lengthAdjust="spacingAndGlyphs">7.36</text>
<text transform="translate(489.90,100.90) rotate(-90)" font-size="9.87" font-weight="normal" font-style="normal" fill="#0000ff" textLength="17.99" lengthAdjust="spacingAndGlyphs">7.46</text>
<text transform="translate(504.10,38.19) rotate(-90)" font-size="9.59" font-weight="bold" font-style="normal" fill="#0000ff" stroke="#0000ff" stroke-width="0.3" textLength="18.28" lengthAdjust="spacingAndGlyphs">7.56</text>
<text transform="translate(528.30,78.80) rotate(-90)" font-size="9.87" font-weight="normal" font-style="normal" fill="#0000ff" textLength="17.09" lengthAdjust="spacingAndGlyphs">7.73</text>
<text transform="translate(558.10,105.89) rotate(-90)" font-size="9.59" font-weight="normal" font-style="normal" fill="#0000ff" textLength="17.48" lengthAdjust="spacingAndGlyphs">7.94</text>
<text transform="translate(572.10,54.00) rotate(-90)" font-size="9.90" font-weight="normal" font-style="italic" fill="#000" stroke="#000" stroke-width="0.08" textLength="38.59" lengthAdjust="spacingAndGlyphs">pIM 7.65</text>
<line x1="574.20" y1="15.40" x2="574.20" y2="54.10" stroke="#404040" stroke-width="1"/>
<text transform="translate(571.40,113.19) rotate(-90)" font-size="9.45" font-weight="normal" font-style="normal" fill="#000" stroke="#000" stroke-width="0.25" textLength="19.97" lengthAdjust="spacingAndGlyphs">8.04</text>
<line x1="573.60" y1="93.20" x2="573.60" y2="113.30" stroke="#404040" stroke-width="1"/>
<text transform="translate(614.60,54.60) rotate(-90)" font-size="9.90" font-weight="normal" font-style="italic" fill="#000" stroke="#000" stroke-width="0.08" textLength="38.29" lengthAdjust="spacingAndGlyphs">pIM 8.18</text>
<line x1="616.70" y1="16.30" x2="616.70" y2="54.70" stroke="#404040" stroke-width="1"/>
<text transform="translate(613.40,111.29) rotate(-90)" font-size="9.45" font-weight="normal" font-style="normal" fill="#000" stroke="#000" stroke-width="0.25" textLength="18.47" lengthAdjust="spacingAndGlyphs">8.33</text>
<line x1="615.20" y1="92.80" x2="615.20" y2="111.40" stroke="#404040" stroke-width="1"/>
<text transform="translate(634.70,84.10) rotate(-90)" font-size="9.90" font-weight="normal" font-style="italic" fill="#000" stroke="#000" stroke-width="0.08" textLength="38.90" lengthAdjust="spacingAndGlyphs">pIM 8.40</text>
<line x1="636.80" y1="45.20" x2="636.80" y2="84.20" stroke="#404040" stroke-width="1"/>
<text transform="translate(635.50,144.59) rotate(-90)" font-size="9.45" font-weight="normal" font-style="normal" fill="#000" stroke="#000" stroke-width="0.25" textLength="18.67" lengthAdjust="spacingAndGlyphs">8.49</text>
<line x1="637.20" y1="125.90" x2="637.20" y2="144.70" stroke="#404040" stroke-width="1"/>
<line x1="433.5" y1="70.6" x2="433.5" y2="94.0" stroke="#595959" stroke-width="1"/>
<path d="M429.60,94.0 L437.40,94.0 L433.5,101.1 Z" fill="#595959"/>
<line x1="570.5" y1="56.2" x2="570.5" y2="79.8" stroke="#595959" stroke-width="1"/>
<path d="M566.60,79.8 L574.40,79.8 L570.5,86.6 Z" fill="#595959"/>
<line x1="612.5" y1="57.1" x2="612.5" y2="80.6" stroke="#595959" stroke-width="1"/>
<path d="M608.60,80.6 L616.40,80.6 L612.5,88.3 Z" fill="#595959"/>
<line x1="633.5" y1="86.4" x2="633.5" y2="109.4" stroke="#595959" stroke-width="1"/>
<path d="M629.60,109.4 L637.40,109.4 L633.5,117.1 Z" fill="#595959"/>
<line x1="406.2" y1="257.8" x2="406.2" y2="393.3" stroke="#bcbcbc" stroke-width="1"/>
<line x1="406.2" y1="393.3" x2="645.5" y2="393.3" stroke="#bcbcbc" stroke-width="1"/>
<line x1="406.2" y1="393.30" x2="409.2" y2="393.30" stroke="#bcbcbc" stroke-width="1"/>
<text x="397.00" y="396.30" font-size="9.90" text-anchor="end" fill="#595959" textLength="5.36" lengthAdjust="spacingAndGlyphs">0</text>
<line x1="406.2" y1="376.36" x2="409.2" y2="376.36" stroke="#bcbcbc" stroke-width="1"/>
<text x="397.00" y="379.36" font-size="9.90" text-anchor="end" fill="#595959" textLength="16.09" lengthAdjust="spacingAndGlyphs">100</text>
<line x1="406.2" y1="359.43" x2="409.2" y2="359.43" stroke="#bcbcbc" stroke-width="1"/>
<text x="397.00" y="362.43" font-size="9.90" text-anchor="end" fill="#595959" textLength="16.09" lengthAdjust="spacingAndGlyphs">200</text>
<line x1="406.2" y1="342.49" x2="409.2" y2="342.49" stroke="#bcbcbc" stroke-width="1"/>
<text x="397.00" y="345.49" font-size="9.90" text-anchor="end" fill="#595959" textLength="16.09" lengthAdjust="spacingAndGlyphs">300</text>
<line x1="406.2" y1="325.55" x2="409.2" y2="325.55" stroke="#bcbcbc" stroke-width="1"/>
<text x="397.00" y="328.55" font-size="9.90" text-anchor="end" fill="#595959" textLength="16.09" lengthAdjust="spacingAndGlyphs">400</text>
<line x1="406.2" y1="308.61" x2="409.2" y2="308.61" stroke="#bcbcbc" stroke-width="1"/>
<text x="397.00" y="311.61" font-size="9.90" text-anchor="end" fill="#595959" textLength="16.09" lengthAdjust="spacingAndGlyphs">500</text>
<line x1="406.2" y1="291.68" x2="409.2" y2="291.68" stroke="#bcbcbc" stroke-width="1"/>
<text x="397.00" y="294.68" font-size="9.90" text-anchor="end" fill="#595959" textLength="16.09" lengthAdjust="spacingAndGlyphs">600</text>
<line x1="406.2" y1="274.74" x2="409.2" y2="274.74" stroke="#bcbcbc" stroke-width="1"/>
<text x="397.00" y="277.74" font-size="9.90" text-anchor="end" fill="#595959" textLength="16.09" lengthAdjust="spacingAndGlyphs">700</text>
<line x1="406.2" y1="257.80" x2="409.2" y2="257.80" stroke="#bcbcbc" stroke-width="1"/>
<text x="397.00" y="260.80" font-size="9.90" text-anchor="end" fill="#595959" textLength="16.09" lengthAdjust="spacingAndGlyphs">800</text>
<line x1="405.80" y1="393.3" x2="405.80" y2="390.3" stroke="#bcbcbc" stroke-width="1"/>
<text x="406.40" y="415.30" font-size="13.10" text-anchor="middle" fill="#595959" textLength="22.77" lengthAdjust="spacingAndGlyphs">6.90</text>
<line x1="419.90" y1="393.3" x2="419.90" y2="390.3" stroke="#bcbcbc" stroke-width="1"/>
<line x1="434.00" y1="393.3" x2="434.00" y2="390.3" stroke="#bcbcbc" stroke-width="1"/>
<text x="434.60" y="415.30" font-size="13.10" text-anchor="middle" fill="#595959" textLength="22.77" lengthAdjust="spacingAndGlyphs">7.10</text>
<line x1="448.10" y1="393.3" x2="448.10" y2="390.3" stroke="#bcbcbc" stroke-width="1"/>
<line x1="462.20" y1="393.3" x2="462.20" y2="390.3" stroke="#bcbcbc" stroke-width="1"/>
<text x="462.80" y="415.30" font-size="13.10" text-anchor="middle" fill="#595959" textLength="22.77" lengthAdjust="spacingAndGlyphs">7.30</text>
<line x1="476.30" y1="393.3" x2="476.30" y2="390.3" stroke="#bcbcbc" stroke-width="1"/>
<line x1="490.40" y1="393.3" x2="490.40" y2="390.3" stroke="#bcbcbc" stroke-width="1"/>
<text x="491.00" y="415.30" font-size="13.10" text-anchor="middle" fill="#595959" textLength="22.77" lengthAdjust="spacingAndGlyphs">7.50</text>
<line x1="504.50" y1="393.3" x2="504.50" y2="390.3" stroke="#bcbcbc" stroke-width="1"/>
<line x1="518.60" y1="393.3" x2="518.60" y2="390.3" stroke="#bcbcbc" stroke-width="1"/>
<text x="519.20" y="415.30" font-size="13.10" text-anchor="middle" fill="#595959" textLength="22.77" lengthAdjust="spacingAndGlyphs">7.70</text>
<line x1="532.70" y1="393.3" x2="532.70" y2="390.3" stroke="#bcbcbc" stroke-width="1"/>
<line x1="546.80" y1="393.3" x2="546.80" y2="390.3" stroke="#bcbcbc" stroke-width="1"/>
<text x="547.40" y="415.30" font-size="13.10" text-anchor="middle" fill="#595959" textLength="22.77" lengthAdjust="spacingAndGlyphs">7.90</text>
<line x1="560.90" y1="393.3" x2="560.90" y2="390.3" stroke="#bcbcbc" stroke-width="1"/>
<line x1="575.00" y1="393.3" x2="575.00" y2="390.3" stroke="#bcbcbc" stroke-width="1"/>
<text x="575.60" y="415.30" font-size="13.10" text-anchor="middle" fill="#595959" textLength="22.77" lengthAdjust="spacingAndGlyphs">8.10</text>
<line x1="589.10" y1="393.3" x2="589.10" y2="390.3" stroke="#bcbcbc" stroke-width="1"/>
<line x1="603.20" y1="393.3" x2="603.20" y2="390.3" stroke="#bcbcbc" stroke-width="1"/>
<text x="603.80" y="415.30" font-size="13.10" text-anchor="middle" fill="#595959" textLength="22.77" lengthAdjust="spacingAndGlyphs">8.30</text>
<line x1="617.30" y1="393.3" x2="617.30" y2="390.3" stroke="#bcbcbc" stroke-width="1"/>
<line x1="631.40" y1="393.3" x2="631.40" y2="390.3" stroke="#bcbcbc" stroke-width="1"/>
<text x="632.00" y="415.30" font-size="13.10" text-anchor="middle" fill="#595959" textLength="22.77" lengthAdjust="spacingAndGlyphs">8.50</text>
<line x1="645.50" y1="393.3" x2="645.50" y2="390.3" stroke="#bcbcbc" stroke-width="1"/>
<text x="516.4" y="437.0" font-size="11.8" font-weight="bold" text-anchor="middle" fill="#595959">pH</text>
<text transform="translate(362.8,367.80) rotate(-90)" font-size="12.2" font-weight="bold" fill="#595959" textLength="101.90" lengthAdjust="spacingAndGlyphs">Absorbance (A.U.)</text>
<path d="M406.90,393.40 C407.52,393.42 409.60,393.63 410.60,393.50 C411.60,393.37 412.28,393.68 412.90,392.60 C413.52,391.52 413.88,389.63 414.30,387.00 C414.72,384.37 415.02,379.50 415.40,376.80 C415.78,374.10 416.20,371.27 416.60,370.80 C417.00,370.33 417.42,371.92 417.80,374.00 C418.18,376.08 418.48,380.35 418.90,383.30 C419.32,386.25 419.83,390.00 420.30,391.70 C420.77,393.40 421.15,393.27 421.70,393.50 C422.25,393.73 422.67,393.25 423.60,393.10 C424.53,392.95 426.07,392.80 427.30,392.60 C428.53,392.40 430.07,392.20 431.00,391.90 C431.93,391.60 432.28,391.22 432.90,390.80 C433.52,390.38 434.08,389.68 434.70,389.40 C435.32,389.12 435.82,389.07 436.60,389.10 C437.38,389.13 438.55,389.72 439.40,389.60 C440.25,389.48 441.08,388.83 441.70,388.40 C442.32,387.97 442.63,388.32 443.10,387.00 C443.57,385.68 444.07,382.07 444.50,380.50 C444.93,378.93 445.28,377.60 445.70,377.60 C446.12,377.60 446.58,379.70 447.00,380.50 C447.42,381.30 447.85,381.93 448.20,382.40 C448.55,382.87 448.75,382.77 449.10,383.30 C449.45,383.83 449.92,385.32 450.30,385.60 C450.68,385.88 450.90,385.07 451.40,385.00 C451.90,384.93 452.83,385.78 453.30,385.20 C453.77,384.62 453.92,385.22 454.20,381.50 C454.48,377.78 454.77,368.63 455.00,362.90 C455.23,357.17 455.42,350.20 455.60,347.10 C455.78,344.00 455.87,344.00 456.10,344.30 C456.33,344.60 456.62,346.12 457.00,348.90 C457.38,351.68 457.93,357.12 458.40,361.00 C458.87,364.88 459.42,369.57 459.80,372.20 C460.18,374.83 460.38,376.50 460.70,376.80 C461.02,377.10 461.38,374.30 461.70,374.00 C462.02,373.70 462.30,374.45 462.60,375.00 C462.90,375.55 463.18,380.37 463.50,377.30 C463.82,374.23 464.18,367.60 464.50,356.60 C464.82,345.60 465.10,323.38 465.40,311.30 C465.70,299.22 465.98,289.25 466.30,284.10 C466.62,278.95 466.98,280.10 467.30,280.40 C467.62,280.70 467.90,280.75 468.20,285.90 C468.50,291.05 468.80,303.13 469.10,311.30 C469.40,319.47 469.65,328.85 470.00,334.90 C470.35,340.95 470.82,343.67 471.20,347.60 C471.58,351.53 471.90,356.38 472.30,358.50 C472.70,360.62 473.17,358.18 473.60,360.30 C474.03,362.42 474.45,367.88 474.90,371.20 C475.35,374.52 475.77,378.40 476.30,380.20 C476.83,382.00 477.43,381.38 478.10,382.00 C478.77,382.62 479.53,383.43 480.30,383.90 C481.07,384.37 482.07,385.12 482.70,384.80 C483.33,384.48 483.72,386.70 484.10,382.00 C484.48,377.30 484.70,365.37 485.00,356.60 C485.30,347.83 485.53,334.98 485.90,329.40 C486.27,323.82 486.77,323.40 487.20,323.10 C487.63,322.80 488.12,324.13 488.50,327.60 C488.88,331.07 489.12,338.75 489.50,343.90 C489.88,349.05 490.28,354.57 490.80,358.50 C491.32,362.43 492.05,364.48 492.60,367.50 C493.15,370.52 493.55,374.78 494.10,376.60 C494.65,378.42 495.23,377.18 495.90,378.40 C496.57,379.62 497.28,382.23 498.10,383.90 C498.92,385.57 499.75,387.35 500.80,388.40 C501.85,389.45 503.40,389.98 504.40,390.20 C505.40,390.42 505.90,389.63 506.80,389.70 C507.70,389.77 508.90,390.67 509.80,390.60 C510.70,390.53 511.58,393.45 512.20,389.30 C512.82,385.15 513.13,371.45 513.50,365.70 C513.87,359.95 514.08,357.35 514.40,354.80 C514.72,352.25 515.00,349.75 515.40,350.40 C515.80,351.05 516.28,355.18 516.80,358.70 C517.32,362.22 517.92,368.00 518.50,371.50 C519.08,375.00 519.68,377.98 520.30,379.70 C520.92,381.42 521.53,382.58 522.20,381.80 C522.87,381.02 523.55,378.27 524.30,375.00 C525.05,371.73 526.02,365.22 526.70,362.20 C527.38,359.18 527.92,357.87 528.40,356.90 C528.88,355.93 529.10,355.90 529.60,356.40 C530.10,356.90 530.82,357.57 531.40,359.90 C531.98,362.23 532.52,366.72 533.10,370.40 C533.68,374.08 534.32,378.88 534.90,382.00 C535.48,385.12 535.83,387.38 536.60,389.10 C537.37,390.82 538.03,391.57 539.50,392.30 C540.97,393.03 543.65,393.27 545.40,393.50 C547.15,393.73 548.07,393.82 550.00,393.70 C551.93,393.58 554.67,392.83 557.00,392.80 C559.33,392.77 562.15,393.53 564.00,393.50 C565.85,393.47 567.02,393.73 568.10,392.60 C569.18,391.47 569.82,389.23 570.50,386.70 C571.18,384.17 571.62,380.90 572.20,377.40 C572.78,373.90 573.42,369.02 574.00,365.70 C574.58,362.38 575.12,359.35 575.70,357.50 C576.28,355.65 576.92,354.40 577.50,354.60 C578.08,354.80 578.62,356.27 579.20,358.70 C579.78,361.13 580.42,365.32 581.00,369.20 C581.58,373.08 582.12,378.50 582.70,382.00 C583.28,385.50 583.82,388.35 584.50,390.20 C585.18,392.05 585.73,392.47 586.80,393.10 C587.87,393.73 589.53,393.93 590.90,394.00 C592.27,394.07 593.82,393.73 595.00,393.50 C596.18,393.27 597.00,393.08 598.00,392.60 C599.00,392.12 600.17,391.18 601.00,390.60 C601.83,390.02 602.33,389.45 603.00,389.10 C603.67,388.75 604.33,388.52 605.00,388.50 C605.67,388.48 606.25,388.65 607.00,389.00 C607.75,389.35 608.67,390.08 609.50,390.60 C610.33,391.12 610.92,391.65 612.00,392.10 C613.08,392.55 614.33,393.02 616.00,393.30 C617.67,393.58 619.67,393.68 622.00,393.80 C624.33,393.92 627.33,393.98 630.00,394.00 C632.67,394.02 635.38,393.95 638.00,393.90 C640.62,393.85 644.42,393.73 645.70,393.70" fill="none" stroke="#ff0000" stroke-width="1.9" stroke-linejoin="round"/>
<text transform="translate(420.40,300.60) rotate(-90)" font-size="9.90" font-weight="normal" font-style="italic" fill="#000" stroke="#000" stroke-width="0.08" textLength="39.39" lengthAdjust="spacingAndGlyphs">pIM 7.00</text>
<line x1="422.50" y1="261.20" x2="422.50" y2="300.70" stroke="#404040" stroke-width="1"/>
<text transform="translate(420.00,358.99) rotate(-90)" font-size="9.59" font-weight="normal" font-style="normal" fill="#000" stroke="#000" stroke-width="0.25" textLength="18.98" lengthAdjust="spacingAndGlyphs">6.97</text>
<line x1="421.60" y1="340.00" x2="421.60" y2="359.10" stroke="#404040" stroke-width="1"/>
<text transform="translate(448.70,365.20) rotate(-90)" font-size="9.87" font-weight="normal" font-style="normal" fill="#ff0000" textLength="18.99" lengthAdjust="spacingAndGlyphs">7.18</text>
<text transform="translate(459.30,332.50) rotate(-90)" font-size="9.87" font-weight="normal" font-style="normal" fill="#ff0000" textLength="17.29" lengthAdjust="spacingAndGlyphs">7.25</text>
<text transform="translate(467.70,262.19) rotate(-90)" font-size="9.31" font-weight="bold" font-style="normal" fill="#ff0000" stroke="#ff0000" stroke-width="0.3" textLength="18.17" lengthAdjust="spacingAndGlyphs">7.33</text>
<text transform="translate(490.80,310.89) rotate(-90)" font-size="9.73" font-weight="normal" font-style="normal" fill="#ff0000" textLength="17.89" lengthAdjust="spacingAndGlyphs">7.47</text>
<text transform="translate(518.50,338.10) rotate(-90)" font-size="9.87" font-weight="normal" font-style="normal" fill="#ff0000" textLength="18.59" lengthAdjust="spacingAndGlyphs">7.67</text>
<text transform="translate(530.70,285.30) rotate(-90)" font-size="9.90" font-weight="normal" font-style="italic" fill="#000" stroke="#000" stroke-width="0.08" textLength="39.30" lengthAdjust="spacingAndGlyphs">pIM 7.65</text>
<line x1="532.80" y1="246.00" x2="532.80" y2="285.40" stroke="#404040" stroke-width="1"/>
<text transform="translate(532.40,343.89) rotate(-90)" font-size="9.73" font-weight="normal" font-style="normal" fill="#000" stroke="#000" stroke-width="0.25" textLength="18.69" lengthAdjust="spacingAndGlyphs">7.77</text>
<line x1="534.00" y1="325.20" x2="534.00" y2="344.00" stroke="#404040" stroke-width="1"/>
<text transform="translate(578.60,283.70) rotate(-90)" font-size="9.90" font-weight="normal" font-style="italic" fill="#000" stroke="#000" stroke-width="0.08" textLength="39.49" lengthAdjust="spacingAndGlyphs">pIM 8.18</text>
<line x1="580.70" y1="244.20" x2="580.70" y2="283.80" stroke="#404040" stroke-width="1"/>
<text transform="translate(580.50,343.39) rotate(-90)" font-size="9.73" font-weight="normal" font-style="normal" fill="#000" stroke="#000" stroke-width="0.25" textLength="19.39" lengthAdjust="spacingAndGlyphs">8.12</text>
<line x1="582.20" y1="324.00" x2="582.20" y2="343.50" stroke="#404040" stroke-width="1"/>
<text transform="translate(607.80,313.00) rotate(-90)" font-size="9.90" font-weight="normal" font-style="italic" fill="#000" stroke="#000" stroke-width="0.08" textLength="40.60" lengthAdjust="spacingAndGlyphs">pIM 8.40</text>
<line x1="609.90" y1="272.40" x2="609.90" y2="313.10" stroke="#404040" stroke-width="1"/>
<text transform="translate(608.50,377.00) rotate(-90)" font-size="10.16" font-weight="normal" font-style="normal" fill="#000" stroke="#000" stroke-width="0.25" textLength="20.01" lengthAdjust="spacingAndGlyphs">8.31</text>
<line x1="610.20" y1="357.00" x2="610.20" y2="377.10" stroke="#404040" stroke-width="1"/>
<line x1="418.5" y1="302.2" x2="418.5" y2="325.4" stroke="#595959" stroke-width="1"/>
<path d="M414.60,325.4 L422.40,325.4 L418.5,333.0 Z" fill="#595959"/>
<line x1="528.5" y1="286.7" x2="528.5" y2="310.7" stroke="#595959" stroke-width="1"/>
<path d="M524.60,310.7 L532.40,310.7 L528.5,318.1 Z" fill="#595959"/>
<line x1="575.5" y1="285.3" x2="575.5" y2="308.5" stroke="#595959" stroke-width="1"/>
<path d="M571.60,308.5 L579.40,308.5 L575.5,316.1 Z" fill="#595959"/>
<line x1="605.5" y1="313.9" x2="605.5" y2="337.7" stroke="#595959" stroke-width="1"/>
<path d="M601.60,337.7 L609.40,337.7 L605.5,345.3 Z" fill="#595959"/>
<line x1="404.6" y1="488.5" x2="404.6" y2="624.5" stroke="#bcbcbc" stroke-width="1"/>
<line x1="404.6" y1="624.5" x2="646.7" y2="624.5" stroke="#bcbcbc" stroke-width="1"/>
<line x1="404.6" y1="624.50" x2="407.6" y2="624.50" stroke="#bcbcbc" stroke-width="1"/>
<text x="393.30" y="627.50" font-size="11.35" text-anchor="end" fill="#595959" textLength="5.84" lengthAdjust="spacingAndGlyphs">0</text>
<line x1="404.6" y1="607.50" x2="407.6" y2="607.50" stroke="#bcbcbc" stroke-width="1"/>
<text x="393.30" y="610.50" font-size="11.35" text-anchor="end" fill="#595959" textLength="17.52" lengthAdjust="spacingAndGlyphs">100</text>
<line x1="404.6" y1="590.50" x2="407.6" y2="590.50" stroke="#bcbcbc" stroke-width="1"/>
<text x="393.30" y="593.50" font-size="11.35" text-anchor="end" fill="#595959" textLength="17.52" lengthAdjust="spacingAndGlyphs">200</text>
<line x1="404.6" y1="573.50" x2="407.6" y2="573.50" stroke="#bcbcbc" stroke-width="1"/>
<text x="393.30" y="576.50" font-size="11.35" text-anchor="end" fill="#595959" textLength="17.52" lengthAdjust="spacingAndGlyphs">300</text>
<line x1="404.6" y1="556.50" x2="407.6" y2="556.50" stroke="#bcbcbc" stroke-width="1"/>
<text x="393.30" y="559.50" font-size="11.35" text-anchor="end" fill="#595959" textLength="17.52" lengthAdjust="spacingAndGlyphs">400</text>
<line x1="404.6" y1="539.50" x2="407.6" y2="539.50" stroke="#bcbcbc" stroke-width="1"/>
<text x="393.30" y="542.50" font-size="11.35" text-anchor="end" fill="#595959" textLength="17.52" lengthAdjust="spacingAndGlyphs">500</text>
<line x1="404.6" y1="522.50" x2="407.6" y2="522.50" stroke="#bcbcbc" stroke-width="1"/>
<text x="393.30" y="525.50" font-size="11.35" text-anchor="end" fill="#595959" textLength="17.52" lengthAdjust="spacingAndGlyphs">600</text>
<line x1="404.6" y1="505.50" x2="407.6" y2="505.50" stroke="#bcbcbc" stroke-width="1"/>
<text x="393.30" y="508.50" font-size="11.35" text-anchor="end" fill="#595959" textLength="17.52" lengthAdjust="spacingAndGlyphs">700</text>
<line x1="404.6" y1="488.50" x2="407.6" y2="488.50" stroke="#bcbcbc" stroke-width="1"/>
<text x="393.30" y="491.50" font-size="11.35" text-anchor="end" fill="#595959" textLength="17.52" lengthAdjust="spacingAndGlyphs">800</text>
<line x1="404.20" y1="624.5" x2="404.20" y2="621.5" stroke="#bcbcbc" stroke-width="1"/>
<text x="404.80" y="644.30" font-size="11.80" text-anchor="middle" fill="#595959" textLength="20.58" lengthAdjust="spacingAndGlyphs">6.90</text>
<line x1="418.45" y1="624.5" x2="418.45" y2="621.5" stroke="#bcbcbc" stroke-width="1"/>
<line x1="432.70" y1="624.5" x2="432.70" y2="621.5" stroke="#bcbcbc" stroke-width="1"/>
<text x="433.30" y="644.30" font-size="11.80" text-anchor="middle" fill="#595959" textLength="20.58" lengthAdjust="spacingAndGlyphs">7.10</text>
<line x1="446.95" y1="624.5" x2="446.95" y2="621.5" stroke="#bcbcbc" stroke-width="1"/>
<line x1="461.20" y1="624.5" x2="461.20" y2="621.5" stroke="#bcbcbc" stroke-width="1"/>
<text x="461.80" y="644.30" font-size="11.80" text-anchor="middle" fill="#595959" textLength="20.58" lengthAdjust="spacingAndGlyphs">7.30</text>
<line x1="475.45" y1="624.5" x2="475.45" y2="621.5" stroke="#bcbcbc" stroke-width="1"/>
<line x1="489.70" y1="624.5" x2="489.70" y2="621.5" stroke="#bcbcbc" stroke-width="1"/>
<text x="490.30" y="644.30" font-size="11.80" text-anchor="middle" fill="#595959" textLength="20.58" lengthAdjust="spacingAndGlyphs">7.50</text>
<line x1="503.95" y1="624.5" x2="503.95" y2="621.5" stroke="#bcbcbc" stroke-width="1"/>
<line x1="518.20" y1="624.5" x2="518.20" y2="621.5" stroke="#bcbcbc" stroke-width="1"/>
<text x="518.80" y="644.30" font-size="11.80" text-anchor="middle" fill="#595959" textLength="20.58" lengthAdjust="spacingAndGlyphs">7.70</text>
<line x1="532.45" y1="624.5" x2="532.45" y2="621.5" stroke="#bcbcbc" stroke-width="1"/>
<line x1="546.70" y1="624.5" x2="546.70" y2="621.5" stroke="#bcbcbc" stroke-width="1"/>
<text x="547.30" y="644.30" font-size="11.80" text-anchor="middle" fill="#595959" textLength="20.58" lengthAdjust="spacingAndGlyphs">7.90</text>
<line x1="560.95" y1="624.5" x2="560.95" y2="621.5" stroke="#bcbcbc" stroke-width="1"/>
<line x1="575.20" y1="624.5" x2="575.20" y2="621.5" stroke="#bcbcbc" stroke-width="1"/>
<text x="575.80" y="644.30" font-size="11.80" text-anchor="middle" fill="#595959" textLength="20.58" lengthAdjust="spacingAndGlyphs">8.10</text>
<line x1="589.45" y1="624.5" x2="589.45" y2="621.5" stroke="#bcbcbc" stroke-width="1"/>
<line x1="603.70" y1="624.5" x2="603.70" y2="621.5" stroke="#bcbcbc" stroke-width="1"/>
<text x="604.30" y="644.30" font-size="11.80" text-anchor="middle" fill="#595959" textLength="20.58" lengthAdjust="spacingAndGlyphs">8.30</text>
<line x1="617.95" y1="624.5" x2="617.95" y2="621.5" stroke="#bcbcbc" stroke-width="1"/>
<line x1="632.20" y1="624.5" x2="632.20" y2="621.5" stroke="#bcbcbc" stroke-width="1"/>
<text x="632.80" y="644.30" font-size="11.80" text-anchor="middle" fill="#595959" textLength="20.58" lengthAdjust="spacingAndGlyphs">8.50</text>
<line x1="646.45" y1="624.5" x2="646.45" y2="621.5" stroke="#bcbcbc" stroke-width="1"/>
<text x="516.4" y="665.6" font-size="11.3" font-weight="bold" text-anchor="middle" fill="#595959">pH</text>
<text transform="translate(362.9,600.40) rotate(-90)" font-size="12.2" font-weight="bold" fill="#595959" textLength="101.00" lengthAdjust="spacingAndGlyphs">Absorbance (A.U.)</text>
<path d="M404.90,624.90 C405.68,624.87 408.05,624.85 409.60,624.70 C411.15,624.55 413.12,624.65 414.20,624.00 C415.28,623.35 415.58,623.20 416.10,620.80 C416.62,618.40 416.92,612.78 417.30,609.60 C417.68,606.42 418.07,602.32 418.40,601.70 C418.73,601.08 418.98,603.35 419.30,605.90 C419.62,608.45 419.92,614.07 420.30,617.00 C420.68,619.93 421.07,622.38 421.60,623.50 C422.13,624.62 422.72,623.72 423.50,623.70 C424.28,623.68 425.37,623.58 426.30,623.40 C427.23,623.22 428.33,623.03 429.10,622.60 C429.87,622.17 430.13,621.15 430.90,620.80 C431.67,620.45 432.85,620.67 433.70,620.50 C434.55,620.33 435.38,620.38 436.00,619.80 C436.62,619.22 437.00,618.55 437.40,617.00 C437.80,615.45 438.12,611.97 438.40,610.50 C438.68,609.03 438.80,608.03 439.10,608.20 C439.40,608.37 439.85,610.65 440.20,611.50 C440.55,612.35 440.85,612.45 441.20,613.30 C441.55,614.15 441.92,616.22 442.30,616.60 C442.68,616.98 443.03,615.77 443.50,615.60 C443.97,615.43 444.72,619.38 445.10,615.60 C445.48,611.82 445.57,599.55 445.80,592.90 C446.03,586.25 446.22,578.03 446.50,575.70 C446.78,573.37 447.18,576.03 447.50,578.90 C447.82,581.77 448.07,588.40 448.40,592.90 C448.73,597.40 449.17,603.43 449.50,605.90 C449.83,608.37 450.08,607.85 450.40,607.70 C450.72,607.55 451.08,604.83 451.40,605.00 C451.72,605.17 452.07,610.47 452.30,608.70 C452.53,606.93 452.55,604.65 452.80,594.40 C453.05,584.15 453.48,560.42 453.80,547.20 C454.12,533.98 454.38,521.08 454.70,515.10 C455.02,509.12 455.38,510.98 455.70,511.30 C456.02,511.62 456.30,511.02 456.60,517.00 C456.90,522.98 457.18,537.45 457.50,547.20 C457.82,556.95 458.18,568.58 458.50,575.50 C458.82,582.42 459.08,586.18 459.40,588.70 C459.72,591.22 460.02,588.70 460.40,590.60 C460.78,592.50 461.23,596.63 461.70,600.10 C462.17,603.57 462.63,609.05 463.20,611.40 C463.77,613.75 464.47,613.42 465.10,614.20 C465.73,614.98 466.37,615.93 467.00,616.10 C467.63,616.27 468.33,620.38 468.90,615.20 C469.47,610.02 470.00,594.13 470.40,585.00 C470.80,575.87 470.93,565.60 471.30,560.40 C471.67,555.20 472.15,554.12 472.60,553.80 C473.05,553.48 473.58,554.88 474.00,558.50 C474.42,562.12 474.70,570.47 475.10,575.50 C475.50,580.53 475.87,584.30 476.40,588.70 C476.93,593.10 477.73,598.75 478.30,601.90 C478.87,605.05 479.33,606.02 479.80,607.60 C480.27,609.18 480.40,609.83 481.10,611.40 C481.80,612.97 482.90,615.58 484.00,617.00 C485.10,618.42 486.60,619.38 487.70,619.90 C488.80,620.42 489.65,619.95 490.60,620.10 C491.55,620.25 492.47,620.83 493.40,620.80 C494.33,620.77 495.52,622.42 496.20,619.90 C496.88,617.38 497.08,611.22 497.50,605.70 C497.92,600.18 498.28,590.88 498.70,586.80 C499.12,582.72 499.57,581.20 500.00,581.20 C500.43,581.20 500.83,583.65 501.30,586.80 C501.77,589.95 502.23,596.32 502.80,600.10 C503.37,603.88 504.00,607.30 504.70,609.50 C505.40,611.70 506.22,613.62 507.00,613.30 C507.78,612.98 508.52,611.07 509.40,607.60 C510.28,604.13 511.25,595.90 512.30,592.50 C513.35,589.10 514.70,587.20 515.70,587.20 C516.70,587.20 517.45,589.42 518.30,592.50 C519.15,595.58 519.92,601.45 520.80,605.70 C521.68,609.95 522.50,615.23 523.60,618.00 C524.70,620.77 526.33,621.35 527.40,622.30 C528.47,623.25 528.45,623.25 530.00,623.70 C531.55,624.15 534.42,624.85 536.70,625.00 C538.98,625.15 541.37,624.85 543.70,624.60 C546.03,624.35 548.37,623.55 550.70,623.50 C553.03,623.45 555.37,624.25 557.70,624.30 C560.03,624.35 563.05,624.43 564.70,623.80 C566.35,623.17 566.72,622.40 567.60,620.50 C568.48,618.60 569.22,615.50 570.00,612.40 C570.78,609.30 571.53,605.22 572.30,601.90 C573.07,598.58 573.82,595.03 574.60,592.50 C575.38,589.97 576.32,587.83 577.00,586.70 C577.68,585.57 578.12,585.60 578.70,585.70 C579.28,585.80 579.82,585.77 580.50,587.30 C581.18,588.83 582.03,591.70 582.80,594.90 C583.57,598.10 584.32,602.82 585.10,606.50 C585.88,610.18 586.72,614.37 587.50,617.00 C588.28,619.63 588.73,621.03 589.80,622.30 C590.87,623.57 592.25,624.15 593.90,624.60 C595.55,625.05 597.85,625.00 599.70,625.00 C601.55,625.00 603.28,624.85 605.00,624.60 C606.72,624.35 608.50,623.93 610.00,623.50 C611.50,623.07 612.67,622.55 614.00,622.00 C615.33,621.45 616.55,620.67 618.00,620.20 C619.45,619.73 621.20,619.27 622.70,619.20 C624.20,619.13 625.62,619.45 627.00,619.80 C628.38,620.15 629.67,620.77 631.00,621.30 C632.33,621.83 633.50,622.52 635.00,623.00 C636.50,623.48 637.97,623.97 640.00,624.20 C642.03,624.43 646.00,624.37 647.20,624.40" fill="none" stroke="#1aab4a" stroke-width="1.9" stroke-linejoin="round"/>
<text transform="translate(421.00,523.90) rotate(-90)" font-size="9.90" font-weight="normal" font-style="italic" fill="#000" stroke="#000" stroke-width="0.08" textLength="34.30" lengthAdjust="spacingAndGlyphs">pIM 7.0</text>
<line x1="423.10" y1="489.60" x2="423.10" y2="524.00" stroke="#404040" stroke-width="1"/>
<text transform="translate(421.40,590.19) rotate(-90)" font-size="9.31" font-weight="normal" font-style="normal" fill="#000" stroke="#000" stroke-width="0.25" textLength="17.97" lengthAdjust="spacingAndGlyphs">7.00</text>
<line x1="423.00" y1="572.20" x2="423.00" y2="590.30" stroke="#404040" stroke-width="1"/>
<text transform="translate(436.90,594.60) rotate(-90)" font-size="10.16" font-weight="normal" font-style="normal" fill="#1aab4a" textLength="18.41" lengthAdjust="spacingAndGlyphs">7.14</text>
<text transform="translate(447.90,548.81) rotate(-90)" font-size="10.30" font-weight="normal" font-style="normal" fill="#1aab4a" textLength="19.41" lengthAdjust="spacingAndGlyphs">7.20</text>
<text transform="translate(457.90,495.11) rotate(-90)" font-size="10.44" font-weight="bold" font-style="normal" fill="#1aab4a" stroke="#1aab4a" stroke-width="0.3" textLength="19.42" lengthAdjust="spacingAndGlyphs">7.26</text>
<text transform="translate(475.80,541.91) rotate(-90)" font-size="10.30" font-weight="normal" font-style="normal" fill="#1aab4a" textLength="19.51" lengthAdjust="spacingAndGlyphs">7.38</text>
<text transform="translate(503.50,569.69) rotate(-90)" font-size="9.59" font-weight="normal" font-style="normal" fill="#1aab4a" textLength="18.38" lengthAdjust="spacingAndGlyphs">7.57</text>
<text transform="translate(518.90,517.00) rotate(-90)" font-size="9.90" font-weight="normal" font-style="italic" fill="#000" stroke="#000" stroke-width="0.08" textLength="39.39" lengthAdjust="spacingAndGlyphs">pIM 7.65</text>
<line x1="521.00" y1="477.60" x2="521.00" y2="517.10" stroke="#404040" stroke-width="1"/>
<text transform="translate(519.00,575.69) rotate(-90)" font-size="9.73" font-weight="normal" font-style="normal" fill="#000" stroke="#000" stroke-width="0.25" textLength="19.39" lengthAdjust="spacingAndGlyphs">7.68</text>
<line x1="520.70" y1="556.30" x2="520.70" y2="575.80" stroke="#404040" stroke-width="1"/>
<text transform="translate(583.40,508.70) rotate(-90)" font-size="9.90" font-weight="normal" font-style="italic" fill="#000" stroke="#000" stroke-width="0.08" textLength="39.30" lengthAdjust="spacingAndGlyphs">pIM 8.18</text>
<line x1="585.50" y1="469.40" x2="585.50" y2="508.80" stroke="#404040" stroke-width="1"/>
<text transform="translate(583.50,575.00) rotate(-90)" font-size="10.16" font-weight="normal" font-style="normal" fill="#000" stroke="#000" stroke-width="0.25" textLength="19.31" lengthAdjust="spacingAndGlyphs">8.12</text>
<line x1="585.20" y1="555.70" x2="585.20" y2="575.10" stroke="#404040" stroke-width="1"/>
<text transform="translate(626.80,545.20) rotate(-90)" font-size="9.90" font-weight="normal" font-style="italic" fill="#000" stroke="#000" stroke-width="0.08" textLength="39.30" lengthAdjust="spacingAndGlyphs">pIM 8.40</text>
<line x1="628.90" y1="505.90" x2="628.90" y2="545.30" stroke="#404040" stroke-width="1"/>
<text transform="translate(627.30,608.20) rotate(-90)" font-size="10.16" font-weight="normal" font-style="normal" fill="#000" stroke="#000" stroke-width="0.25" textLength="19.31" lengthAdjust="spacingAndGlyphs">8.43</text>
<line x1="629.00" y1="588.90" x2="629.00" y2="608.30" stroke="#404040" stroke-width="1"/>
<line x1="418.5" y1="525.7" x2="418.5" y2="549.6" stroke="#595959" stroke-width="1"/>
<path d="M414.60,549.6 L422.40,549.6 L418.5,557.0 Z" fill="#595959"/>
<line x1="516.5" y1="518.8" x2="516.5" y2="542.7" stroke="#595959" stroke-width="1"/>
<path d="M512.60,542.7 L520.40,542.7 L516.5,549.6 Z" fill="#595959"/>
<line x1="580.5" y1="510.2" x2="580.5" y2="533.9" stroke="#595959" stroke-width="1"/>
<path d="M576.60,533.9 L584.40,533.9 L580.5,541.6 Z" fill="#595959"/>
<line x1="624.5" y1="547.2" x2="624.5" y2="570.4" stroke="#595959" stroke-width="1"/>
<path d="M620.60,570.4 L628.40,570.4 L624.5,578.2 Z" fill="#595959"/>
<text transform="translate(8.05,38.60) scale(0.925,1)" font-size="24.00" font-weight="bold" fill="#000" stroke="#000" stroke-width="0.65">A</text>
<text transform="translate(9.24,265.90) scale(0.810,1)" font-size="22.98" font-weight="bold" fill="#000" stroke="#000" stroke-width="0.74">B</text>
<text transform="translate(8.64,495.41) scale(0.762,1)" font-size="23.02" font-weight="bold" fill="#000" stroke="#000" stroke-width="0.79">C</text>
</svg>
</body></html>
